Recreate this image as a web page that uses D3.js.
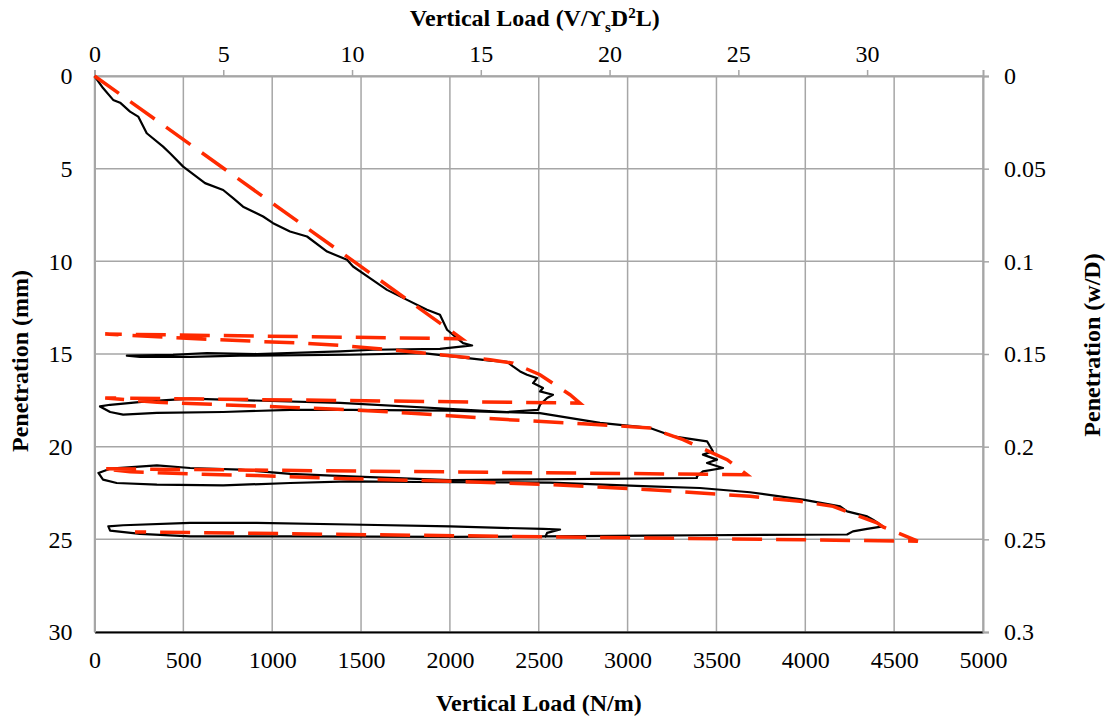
<!DOCTYPE html>
<html>
<head>
<meta charset="utf-8">
<script src="https://cdn.jsdelivr.net/npm/d3@7"></script>
<style>
  body { margin: 0; background: #fff; }
  svg { display: block; }
  text { font-family: "Liberation Serif", "Times New Roman", serif; fill: #000; }
</style>
</head>
<body>
<script>
// measured load vs penetration (N/m, mm)
const testLoad = [0, 48, 105, 144, 200, 246, 294, 386, 425, 499, 622, 724, 780, 836, 949, 1005, 1100, 1196, 1309, 1421, 1455, 1550, 1646, 1759, 1871, 1944, 1984, 2040, 2074, 2125,
  2074, 1944, 1567, 1382, 914, 633, 442, 182,
  256, 538, 819, 1438, 1849, 2226, 2322, 2355, 2395, 2434, 2490, 2468, 2524, 2507, 2580, 2547, 2507, 2496,
  2321, 1382, 538, 294, 88, 31,
  88, 161, 351, 724, 1101, 1438, 2001, 2507, 2845, 3126, 3256, 3447, 3480, 3424, 3503, 3447, 3537, 3424, 3390,
  3390, 2001, 1438, 1101, 819, 538, 351, 88, 22,
  48, 125, 351, 724, 1101, 1438, 2001, 2564, 3126, 3407, 3689, 3987, 4196, 4235, 4348, 4381, 4437,
  4348, 4268, 4235, 3407, 3126, 2001, 1101, 538, 256, 88,
  78, 161, 538, 913, 1438, 2001, 2524, 2620, 2547, 2535];
const testPen = [0, 0.65, 1.29, 1.44, 1.92, 2.19, 3.09, 3.81, 4.17, 4.89, 5.78, 6.15, 6.59, 7.05, 7.58, 7.94, 8.39, 8.66, 9.47, 9.92, 10.28, 10.91, 11.54, 12.08, 12.61, 12.88, 13.69, 14.14, 14.41, 14.54,
  14.59, 14.72, 14.77, 14.86, 15.0, 14.95, 15.04, 15.09,
  15.16, 15.16, 15.09, 15.04, 14.95, 15.36, 15.43, 15.67, 15.94, 16.12, 16.3, 16.57, 16.84, 17.02, 17.2, 17.37, 17.74, 18.01,
  18.13, 17.64, 17.41, 17.56, 17.74, 17.83,
  18.13, 18.27, 18.18, 18.13, 18.01, 18.01, 18.06, 18.19, 18.72, 18.99, 19.44, 19.71, 20.25, 20.43, 20.7, 20.88, 21.15, 21.33, 21.6,
  21.69, 21.81, 21.6, 21.47, 21.24, 21.15, 21.01, 21.19, 21.42,
  21.78, 21.96, 22.05, 22.09, 21.96, 21.87, 21.92, 21.94, 22.14, 22.23, 22.46, 22.86, 23.22, 23.49, 23.76, 23.94, 24.3,
  24.44, 24.57, 24.74, 24.78, 24.8, 24.87, 24.84, 24.84, 24.71, 24.53,
  24.3, 24.24, 24.11, 24.11, 24.2, 24.3, 24.44, 24.47, 24.65, 24.91];

// model prediction (dashed)
const modelLoad = [0, 2068, 60, 689, 914, 1174, 1382, 1663, 1945, 2226, 2355, 2507, 2676, 2732,
  60, 353, 724, 1101, 1438, 1759, 2321, 2749, 3126, 3312, 3560, 3672,
  48, 201, 538, 915, 1438, 2001, 2564, 3126, 3689, 3970, 4156, 4403, 4437, 4633, 228];
const modelPen = [0, 14.18, 13.92, 14.23, 14.32, 14.41, 14.54, 14.77, 15.04, 15.31, 15.49, 16.12, 17.2, 17.65,
  17.37, 17.61, 17.74, 17.88, 18.01, 18.18, 18.54, 18.76, 18.99, 19.62, 20.7, 21.51,
  21.19, 21.36, 21.47, 21.56, 21.73, 21.87, 22.05, 22.32, 22.68, 22.95, 23.22, 24.11, 24.33, 25.1, 24.6];

const loadTicks = [0, 500, 1000, 1500, 2000, 2500, 3000, 3500, 4000, 4500, 5000];
const penTicks = [0, 5, 10, 15, 20, 25, 30];
const normLoadTicks = [0, 5, 10, 15, 20, 25, 30];
const normPenTicks = [0, 0.05, 0.1, 0.15, 0.2, 0.25, 0.3];

const W = 1109, H = 719;
const margin = {top: 76, right: 126, bottom: 87, left: 94.5};
const width = W - margin.left - margin.right;
const height = H - margin.top - margin.bottom;

const svg = d3.select('body').append('svg').attr('width', W).attr('height', H);
const g = svg.append('g').attr('transform', `translate(${margin.left},${margin.top})`);

const x = d3.scaleLinear().domain([0, 5000]).range([0, width]);
const xTop = d3.scaleLinear().domain([0, 34.5]).range([0, width]);
const y = d3.scaleLinear().domain([0, 30]).range([0, height]);
const yRight = d3.scaleLinear().domain([0, 0.3]).range([0, height]);

const grey = '#a6a6a6';
const serif = '"Liberation Serif", "Times New Roman", serif';

// grid
g.append('g').selectAll('line').data(loadTicks).join('line')
  .attr('x1', d => x(d)).attr('x2', d => x(d)).attr('y1', 0).attr('y2', height)
  .attr('stroke', grey).attr('stroke-width', 1.5);
g.append('g').selectAll('line').data(penTicks).join('line')
  .attr('x1', 0).attr('x2', width).attr('y1', d => y(d)).attr('y2', d => y(d))
  .attr('stroke', grey).attr('stroke-width', 1.5);

// axes
const fontSize = '24px';
const bottomAxis = g.append('g').attr('transform', `translate(0,${height})`)
  .call(d3.axisBottom(x).tickValues(loadTicks).tickSize(0).tickPadding(19).tickFormat(d3.format('d')));
bottomAxis.select('.domain').attr('stroke', '#000').attr('stroke-width', 2);

const topAxis = g.append('g')
  .call(d3.axisTop(xTop).tickValues(normLoadTicks).tickSize(6).tickPadding(8).tickFormat(d3.format('d')));
topAxis.select('.domain').attr('stroke', grey).attr('stroke-width', 2);

const leftAxis = g.append('g')
  .call(d3.axisLeft(y).tickValues(penTicks).tickSize(0).tickPadding(22).tickFormat(d3.format('d')));
leftAxis.select('.domain').attr('stroke', grey).attr('stroke-width', 2);

const rightAxis = g.append('g').attr('transform', `translate(${width},0)`)
  .call(d3.axisRight(yRight).tickValues(normPenTicks).tickSize(6).tickPadding(15).tickFormat(d3.format('')));
rightAxis.select('.domain').attr('stroke', grey).attr('stroke-width', 2);

[bottomAxis, topAxis, leftAxis, rightAxis].forEach(a => {
  a.attr('font-family', serif).attr('font-size', fontSize);
  a.selectAll('.tick line').attr('stroke', grey).attr('stroke-width', 1.5);
  a.selectAll('.tick text').style('font-size', fontSize).style('font-family', serif);
});

// curves
const line = d3.line().x(d => x(d[0])).y(d => y(d[1]));
const testPts = testLoad.map((v, i) => [v, testPen[i]]);
const modelPts = modelLoad.map((v, i) => [v, modelPen[i]]);

g.append('path').datum(testPts).attr('d', line)
  .attr('fill', 'none').attr('stroke', '#000').attr('stroke-width', 2.2)
  .attr('stroke-linejoin', 'round');
g.append('path').datum(modelPts).attr('d', line)
  .attr('fill', 'none').attr('stroke', '#ff2a00').attr('stroke-width', 3.5)
  .attr('stroke-dasharray', '30,14');

// titles
svg.append('text').attr('x', margin.left + width / 2).attr('y', 711)
  .attr('text-anchor', 'middle').style('font-size', '24px').style('font-weight', 'bold')
  .text('Vertical Load (N/m)');

const topTitle = svg.append('text').attr('x', margin.left + width / 2 - 4).attr('y', 26)
  .attr('text-anchor', 'middle').style('font-size', '24px').style('font-weight', 'bold');
topTitle.append('tspan').text('Vertical Load (V/ϒ');
topTitle.append('tspan').attr('dy', 6).style('font-size', '15px').text('s');
topTitle.append('tspan').attr('dy', -6).text('D');
topTitle.append('tspan').attr('dy', -8).style('font-size', '15px').text('2');
topTitle.append('tspan').attr('dy', 8).text('L)');

svg.append('text').attr('transform', `translate(28,361) rotate(-90)`)
  .attr('text-anchor', 'middle').style('font-size', '24px').style('font-weight', 'bold')
  .text('Penetration (mm)');
svg.append('text').attr('transform', `translate(1100,345) rotate(-90)`)
  .attr('text-anchor', 'middle').style('font-size', '24px').style('font-weight', 'bold')
  .text('Penetration (w/D)');
</script>
</body>
</html>
